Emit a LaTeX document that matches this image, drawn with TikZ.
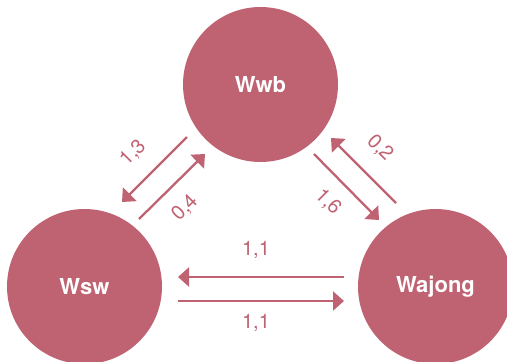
\documentclass[tikz,border=0pt]{standalone}
\usepackage{fontspec}
\setmainfont{TeX Gyre Heros}
\usetikzlibrary{arrows.meta}
\definecolor{rose}{RGB}{191,99,114}
\tikzset{
  state/.style={circle, fill=rose, minimum size=155pt, inner sep=0pt, text=white, font=\fontsize{22}{25}\selectfont\bfseries},
  flow/.style={draw=rose, line width=2.3pt, -{Triangle[length=11pt,width=19pt]}},
  num/.style={text=rose, font=\fontsize{20}{23}\selectfont, inner sep=0pt}
}
\begin{document}
\begin{tikzpicture}[x=1pt,y=-1pt]
\useasboundingbox (0,0) rectangle (507,362);
\node[state] (wwb) at (260.5,84.5) {Wwb};
\node[state] (wsw) at (84.5,286.5) {Wsw};
\node[state] (waj) at (435.5,286.5) {Wajong};
% coordinates of arrow ends
\coordinate (a1s) at (187,137); \coordinate (a1e) at (122,202);
\coordinate (a2s) at (139,219); \coordinate (a2e) at (205,154);
\coordinate (a3s) at (314,154); \coordinate (a3e) at (379,220);
\coordinate (a4s) at (396,203); \coordinate (a4e) at (331,138);
\coordinate (a5s) at (344,277); \coordinate (a5e) at (178,277);
\coordinate (a6s) at (178,301); \coordinate (a6e) at (344,301);
\draw[flow] (a1s) -- (a1e);
\draw[flow] (a2s) -- (a2e);
\draw[flow] (a3s) -- (a3e);
\draw[flow] (a4s) -- (a4e);
\draw[flow] (a5s) -- (a5e);
\draw[flow] (a6s) -- (a6e);
\node[num, rotate=45] (l13) at (133,153) {1,3};
\node[num, rotate=45] (l04) at (185,208) {0,4};
\node[num, rotate=-45] (l02) at (380,148) {0,2};
\node[num, rotate=-45] (l16) at (328,202) {1,6};
\node[num] (l11a) at (256,250) {1,1};
\node[num] (l11b) at (256,323) {1,1};
\end{tikzpicture}
\end{document}
